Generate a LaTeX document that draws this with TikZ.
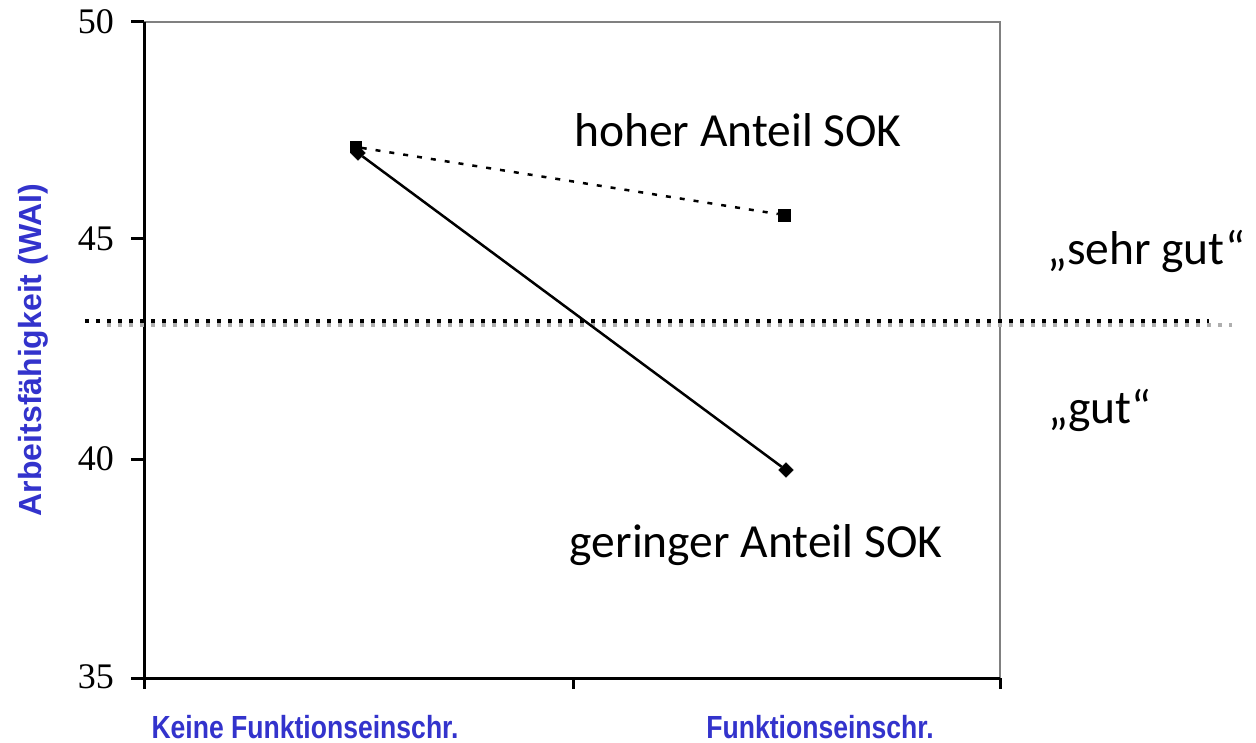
\documentclass[tikz,border=0pt]{standalone}
\usepackage{fontspec}
\setmainfont{Liberation Serif}
\newfontfamily\calib{Carlito}
\newfontfamily\arialb{Liberation Sans}
\usetikzlibrary{shapes.geometric}
\definecolor{axblue}{RGB}{51,51,204}
\definecolor{frgrey}{RGB}{128,128,128}
\definecolor{shgrey}{RGB}{175,175,175}
\tikzset{
  ticklab/.style={anchor=east,inner sep=0pt,font=\fontsize{36}{40}\selectfont},
  axlab/.style={inner sep=0pt,text=axblue,font=\arialb\bfseries\fontsize{32}{36}\selectfont},
  biglab/.style={inner sep=0pt,anchor=base,font=\calib\fontsize{47.5}{56}\selectfont},
  sqmark/.style={draw=black,fill=black,rectangle,minimum size=12pt,inner sep=0pt},
  dimark/.style={draw=black,fill=black,diamond,minimum size=15pt,inner sep=0pt},
  thresh/.style={line width=4pt,dash pattern=on 4pt off 7pt},
}
\begin{document}
\begin{tikzpicture}[x=1pt,y=-1pt]
\useasboundingbox (0,0) rectangle (1256,743);
% frame
\draw[frgrey,line width=2pt] (144,22) -- (1000,22) -- (1000,678);
\draw[black,line width=3pt] (144,22) -- (144,678) -- (1000,678);
% y ticks
\foreach \yy in {22,239,459,678} \draw[black,line width=3pt] (131,\yy) -- (144,\yy);
% x ticks
\foreach \xx in {144,573,1000} \draw[black,line width=3pt] (\xx,678) -- (\xx,689);
% tick labels
\node[ticklab] (l50) at (114,22) {50};
\node[ticklab] (l45) at (114,239) {45};
\node[ticklab] (l40) at (114,459) {40};
\node[ticklab] (l35) at (114,677) {35};
% axis labels
\node[axlab,rotate=90] (ylab) at (33,350) {Arbeitsfähigkeit (WAI)};
\node[axlab,anchor=base] (xlab1) at (305,738) {\scalebox{0.83}[1]{Keine Funktionseinschr.}};
\node[axlab,anchor=base] (xlab2) at (820,738) {\scalebox{0.83}[1]{Funktionseinschr.}};
% threshold line (shadow then black)
\coordinate (s1) at (107,325);
\coordinate (s2) at (1232,325);
\coordinate (t1) at (85,321);
\coordinate (t2) at (1209,321);
\draw[thresh,shgrey] (s1) -- (s2);
\draw[thresh,black] (t1) -- (t2);
% markers
\node[sqmark,minimum size=11pt] (h1) at (356,147) {};
\node[sqmark] (h2) at (784,215) {};
\node[dimark] (g1) at (358,153) {};
\node[dimark] (g2) at (786,470) {};
% series lines
\draw[black,line width=2.5pt,dash pattern=on 5pt off 9pt] (h1) -- (h2);
\draw[black,line width=2.5pt] (g1) -- (g2);
% labels
\node[biglab] (hoch) at (738,147) {hoher Anteil SOK};
\node[biglab] (gering) at (756,557) {geringer Anteil SOK};
\node[biglab,anchor=base west] (sg) at (1047,265) {„sehr gut“};
\node[biglab,anchor=base west] (gu) at (1048,423) {„gut“};
\end{tikzpicture}
\end{document}
